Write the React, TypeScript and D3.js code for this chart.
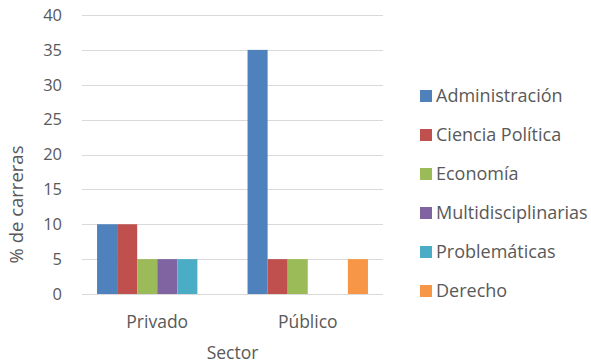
import { useEffect, useRef } from "react"
import * as d3 from "d3"

const sectors = ["Privado", "Público"]
const careers = ["Administración", "Ciencia Política", "Economía", "Multidisciplinarias", "Problemáticas", "Derecho"]
const privado = [10, 10, 5, 5, 5, 0]
const publico = [35, 5, 5, 0, 0, 5]
const colors = ["#4F81BD", "#C0504D", "#9BBB59", "#8064A2", "#4BACC6", "#F79646"]
const yTicks = [0, 5, 10, 15, 20, 25, 30, 35, 40]

const W = 591
const H = 364
const FONT = "'Open Sans', sans-serif"
const TEXT = "#595959"

export default function App() {
  const svgRef = useRef<SVGSVGElement>(null)

  useEffect(() => {
    const svg = d3.select(svgRef.current)
    svg.selectAll("*").remove()

    const values = [privado, publico]
    const left = 82
    const right = 383
    const top = 15
    const bottom = 294

    const x0 = d3.scaleBand<string>().domain(sectors).range([left, right]).paddingInner(0.2).paddingOuter(0.1)
    const x1 = d3.scaleBand<string>().domain(careers).range([0, x0.bandwidth()])
    const y = d3.scaleLinear().domain([0, 40]).range([bottom, top])

    // gridlines
    svg
      .append("g")
      .selectAll("line")
      .data(yTicks)
      .enter()
      .append("line")
      .attr("x1", left)
      .attr("x2", right)
      .attr("y1", (d) => Math.round(y(d)) + 0.5)
      .attr("y2", (d) => Math.round(y(d)) + 0.5)
      .attr("stroke", "#d9d9d9")
      .attr("stroke-width", 1)

    // y tick labels
    svg
      .append("g")
      .selectAll("text")
      .data(yTicks)
      .enter()
      .append("text")
      .attr("x", 62)
      .attr("y", (d) => y(d))
      .attr("dy", "0.35em")
      .attr("text-anchor", "end")
      .attr("font-family", FONT)
      .attr("font-size", 16.5)
      .attr("fill", TEXT)
      .text((d) => d)

    // bars, one group per sector
    sectors.forEach((s, i) => {
      const g = svg.append("g").attr("transform", `translate(${x0(s)},0)`)
      values[i].forEach((v, j) => {
        if (v <= 0) return
        g.append("rect")
          .attr("x", x1(careers[j])!)
          .attr("width", x1.bandwidth())
          .attr("y", y(v))
          .attr("height", y(0) - y(v))
          .attr("fill", colors[j])
      })
    })

    // x labels
    svg
      .append("g")
      .selectAll("text")
      .data(sectors)
      .enter()
      .append("text")
      .attr("x", (d) => x0(d)! + x0.bandwidth() / 2)
      .attr("y", 322)
      .attr("dy", "0.35em")
      .attr("text-anchor", "middle")
      .attr("font-family", FONT)
      .attr("font-size", 17.5)
      .attr("fill", TEXT)
      .text((d) => d)

    // axis titles
    svg
      .append("text")
      .attr("x", (left + right) / 2)
      .attr("y", 353)
      .attr("dy", "0.35em")
      .attr("text-anchor", "middle")
      .attr("font-family", FONT)
      .attr("font-size", 17.5)
      .attr("fill", TEXT)
      .text("Sector")

    svg
      .append("text")
      .attr("transform", `translate(17,${(top + bottom) / 2 + 50}) rotate(-90)`)
      .attr("dy", "0.35em")
      .attr("text-anchor", "middle")
      .attr("font-family", FONT)
      .attr("font-size", 18.5)
      .attr("fill", TEXT)
      .text("% de carreras")

    // legend
    const legend = svg
      .append("g")
      .selectAll("g")
      .data(careers)
      .enter()
      .append("g")
      .attr("transform", (d, i) => `translate(420,${96 + i * 39})`)

    legend
      .append("rect")
      .attr("x", 0)
      .attr("y", -6)
      .attr("width", 12)
      .attr("height", 12)
      .attr("fill", (d, i) => colors[i])

    legend
      .append("text")
      .attr("x", 16)
      .attr("y", 0)
      .attr("dy", "0.35em")
      .attr("font-family", FONT)
      .attr("font-size", 18)
      .attr("fill", TEXT)
      .text((d) => d)
  }, [])

  return (
    <svg
      ref={svgRef}
      width={W}
      height={H}
      style={{ position: "absolute", left: 0, top: 0, background: "#fff" }}
    />
  )
}
